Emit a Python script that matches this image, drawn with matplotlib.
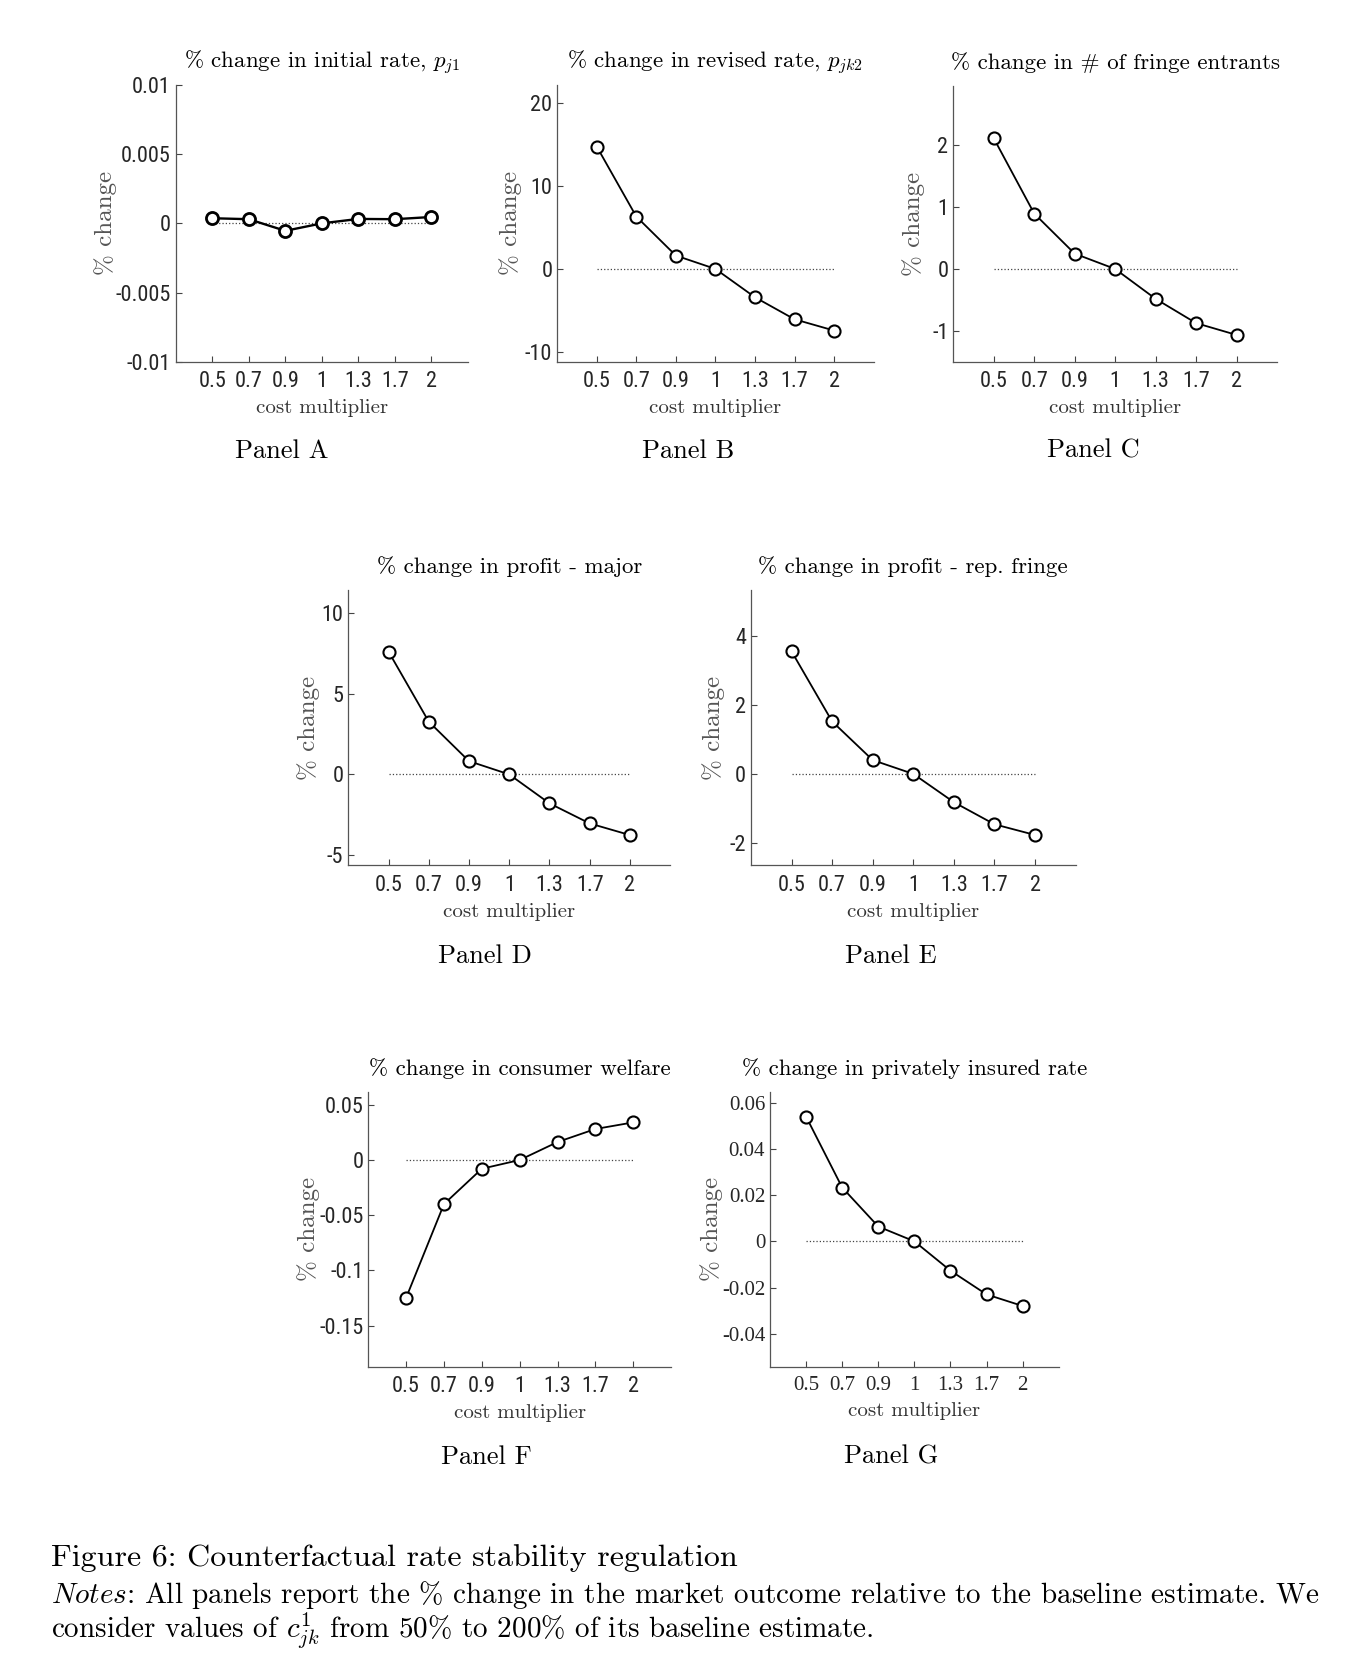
import matplotlib
matplotlib.use("Agg")
from matplotlib import pyplot as plt

plt.rcParams['mathtext.fontset'] = 'cm'
plt.rcParams['axes.unicode_minus'] = False

# data
cost_labels = ['0.5', '0.7', '0.9', '1', '1.3', '1.7', '2']
pos = [1, 2, 3, 4, 5, 6, 7]

initial_rate = [0.00037, 0.0003, -0.00054, 0.0, 0.00032, 0.0003, 0.00046]
revised_rate = [14.77, 6.32, 1.61, 0.0, -3.42, -6.08, -7.44]
fringe_entrants = [2.10, 0.89, 0.246, 0.0, -0.48, -0.87, -1.06]
profit_major = [7.59, 3.26, 0.82, 0.0, -1.79, -3.03, -3.75]
profit_fringe = [3.55, 1.52, 0.40, 0.0, -0.82, -1.46, -1.77]
consumer_welfare = [-0.1248, -0.0399, -0.0079, 0.0, 0.0163, 0.0281, 0.0341]
insured_rate = [0.054, 0.0233, 0.0064, 0.0, -0.0127, -0.023, -0.028]

titles = ['% change in initial rate, $p_{j1}$',
          '% change in revised rate, $p_{jk2}$',
          '% change in # of fringe entrants',
          '% change in profit - major',
          '% change in profit - rep. fringe',
          '% change in consumer welfare',
          '% change in privately insured rate']
panel_names = ['Panel A', 'Panel B', 'Panel C', 'Panel D', 'Panel E', 'Panel F', 'Panel G']

yticks = [[-0.01, -0.005, 0, 0.005, 0.01],
          [-10, 0, 10, 20],
          [-1, 0, 1, 2],
          [-5, 0, 5, 10],
          [-2, 0, 2, 4],
          [-0.15, -0.1, -0.05, 0, 0.05],
          [-0.04, -0.02, 0, 0.02, 0.04, 0.06]]
ytick_labels = [['-0.01', '-0.005', '0', '0.005', '0.01'],
                ['-10', '0', '10', '20'],
                ['-1', '0', '1', '2'],
                ['-5', '0', '5', '10'],
                ['-2', '0', '2', '4'],
                ['-0.15', '-0.1', '-0.05', '0', '0.05'],
                ['-0.04', '-0.02', '0', '0.02', '0.04', '0.06']]
ylims = [(-0.01, 0.01), (-11.2, 22.2), (-1.49, 2.94), (-5.6, 11.4),
         (-2.64, 5.33), (-0.1873, 0.0619), (-0.0543, 0.0648)]

series = [initial_rate, revised_rate, fringe_entrants, profit_major,
          profit_fringe, consumer_welfare, insured_rate]

W, H = 1364, 1670

# axes boxes in pixels: left, top, right, bottom
boxes = [(175.7, 85, 468, 361.7),
         (557.2, 85, 873.6, 361.7),
         (953.3, 86, 1277, 361.7),
         (348.3, 590, 670.2, 865),
         (751, 590, 1075.6, 865),
         (368.3, 1091.7, 671.1, 1366.7),
         (770, 1091.7, 1058.7, 1366.7)]
ylabel_x = [106, 511, 914, 309, 714, 309, 712]
panel_pos = [(282, 451), (688, 451), (1093, 451), (485, 956), (891, 956),
             (486, 1457), (891, 1457)]

narrow = ['Roboto Condensed', 'Archivo Narrow', 'PT Sans Narrow',
          'Encode Sans Condensed', 'Encode Sans Semi Condensed', 'DejaVu Sans']

fig = plt.figure(figsize=(W / 100, H / 100), dpi=100)

for i in range(7):
    l, t, r, b = boxes[i]
    ax = fig.add_axes([l / W, 1 - b / H, (r - l) / W, (b - t) / H])
    lw = 1.7 if i == 0 else 1.3
    mew = 2.0 if i == 0 else 1.5
    ax.plot([1, 7], [0, 0], linestyle=':', color='#444444', linewidth=0.9)
    ax.plot(pos, series[i], color='black', linewidth=lw, marker='o',
            markersize=8.7, markerfacecolor='white', markeredgecolor='black',
            markeredgewidth=mew)
    ax.set_xlim(0, 8)
    ax.set_ylim(ylims[i])
    ax.set_xticks(pos)
    ax.set_yticks(yticks[i])
    if i == 6:
        tick_font = ['Liberation Serif', 'DejaVu Serif']
        tick_size = 15
    else:
        tick_font = narrow
        tick_size = 16
    ax.set_xticklabels(cost_labels, family=tick_font, fontsize=tick_size)
    ax.set_yticklabels(ytick_labels[i], family=tick_font, fontsize=tick_size)
    ax.tick_params(direction='in', length=4, width=0.8, color='#444444',
                   labelcolor='#262626')
    ax.tick_params(axis='x', pad=7)
    ax.tick_params(axis='y', pad=3.5)
    for s in ['top', 'right']:
        ax.spines[s].set_visible(False)
    for s in ['left', 'bottom']:
        ax.spines[s].set_color('#555555')
        ax.spines[s].set_linewidth(0.9)
    ax.set_title(titles[i], fontfamily='cmr10', fontsize=16.5, pad=12)
    ax.set_xlabel('cost multiplier', fontfamily='cmr10', fontsize=15,
                  color='#333333', labelpad=5)
    ax.set_ylabel('% change', fontfamily='cmr10', fontsize=18, color='#555555')
    ax.yaxis.label.set_va('center')
    ax.yaxis.set_label_coords((ylabel_x[i] - l) / (r - l), 0.5)
    px, py = panel_pos[i]
    fig.text(px / W, 1 - py / H, panel_names[i], fontfamily='cmr10',
             fontsize=19, ha='center', va='center')

fig.text(51 / W, 1 - 1558 / H, 'Figure 6: Counterfactual rate stability regulation',
         fontfamily='cmr10', fontsize=23, va='center')
fig.text(51 / W, 1 - 1595 / H,
         r'$\mathit{Notes}$: All panels report the % change in the market outcome '
         'relative to the baseline estimate. We',
         fontfamily='cmr10', fontsize=21, va='center')
fig.text(51 / W, 1 - 1631 / H,
         r'consider values of $c^1_{jk}$ from 50% to 200% of its baseline estimate.',
         fontfamily='cmr10', fontsize=21, va='center')

fig.savefig('out.png', dpi=100)
